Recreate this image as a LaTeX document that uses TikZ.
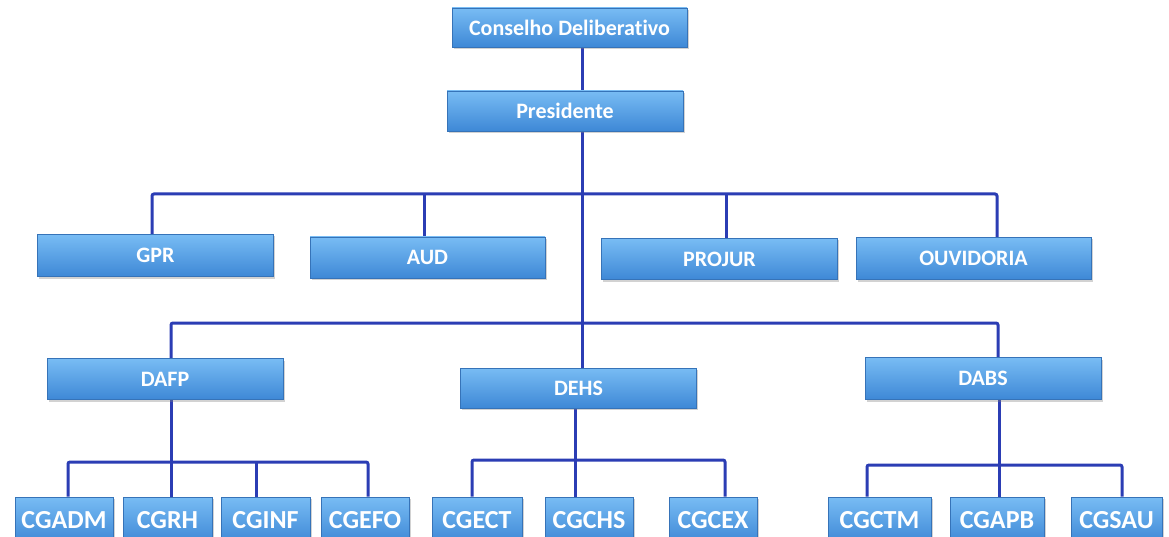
\documentclass[tikz,border=0pt]{standalone}
\usepackage{fontspec}
\setmainfont{Carlito}[Ligatures=NoCommon]
\usetikzlibrary{shadows,backgrounds}
\definecolor{boxtop}{HTML}{78BCF4}
\definecolor{boxmid}{HTML}{4C9CE8}
\definecolor{boxbot}{HTML}{3E88D6}
\definecolor{boxline}{HTML}{3673B8}
\definecolor{conncol}{HTML}{2B3DB4}
\tikzset{
  orgbox/.style={draw=boxline, line width=0.6pt, top color=boxtop, middle color=boxmid, bottom color=boxbot,
    minimum height=#1, inner sep=0pt, text=white, font=\bfseries\fontsize{22}{22}\selectfont,
    drop shadow={shadow xshift=1.5pt, shadow yshift=-2pt, opacity=0.35}},
  lowbox/.style={orgbox=46pt, font=\bfseries\fontsize{26}{26}\selectfont},
  conn/.style={draw=conncol, line width=3pt, rounded corners=2pt}
}
\begin{document}
\begin{tikzpicture}[x=1pt,y=-1pt]
\clip (0,0) rectangle (1169,537);
% level 0/1
\node[orgbox=39pt, minimum width=235pt] (cd) at (569.5,27.5) {Conselho Deliberativo};
\node[orgbox=40pt, minimum width=236pt] (pres) at (565,111) {Presidente};
% level 2
\node[orgbox=42pt, minimum width=236pt] (gpr) at (155.5,255.5) {GPR};
\node[orgbox=41pt, minimum width=235pt] (aud) at (427.5,257.5) {AUD};
\node[orgbox=41pt, minimum width=236pt] (projur) at (719.5,259) {PROJUR};
\node[orgbox=42pt, minimum width=235pt] (ouv) at (973.5,258.5) {OUVIDORIA};
% level 3
\node[orgbox=41pt, minimum width=236pt] (dafp) at (165,379) {DAFP};
\node[orgbox=40pt, minimum width=236pt] (dehs) at (578.5,388) {DEHS};
\node[orgbox=42pt, minimum width=236pt] (dabs) at (983,378.5) {DABS};
% level 4
\node[lowbox, minimum width=98pt] (cgadm) at (64,520) {CGADM};
\node[lowbox, minimum width=89pt] (cgrh) at (167.5,520) {CGRH};
\node[lowbox, minimum width=89pt] (cginf) at (265.5,520) {CGINF};
\node[lowbox, minimum width=88pt] (cgefo) at (365,520) {CGEFO};
\node[lowbox, minimum width=90pt] (cgect) at (477,520) {CGECT};
\node[lowbox, minimum width=88pt] (cgchs) at (589,520) {CGCHS};
\node[lowbox, minimum width=88pt] (cgcex) at (713,520) {CGCEX};
\node[lowbox, minimum width=103pt] (cgctm) at (879.5,520) {CGCTM};
\node[lowbox, minimum width=94pt] (cgapb) at (997,520) {CGAPB};
\node[lowbox, minimum width=91pt] (cgsau) at (1116.5,520) {CGSAU};
% bus coordinates
\coordinate (T) at (582,0);
\coordinate (b1l) at (152,194);
\coordinate (b1a) at (424,194);
\coordinate (b1p) at (726,194);
\coordinate (b1r) at (997,194);
\coordinate (b2l) at (171,323);
\coordinate (b2r) at (998,323);
\coordinate (bAl) at (68,462);
\coordinate (bAi) at (256,462);
\coordinate (bAr) at (368,462);
\coordinate (bDl) at (472,460);
\coordinate (bDm) at (575,460);
\coordinate (bDr) at (725,460);
\coordinate (bBl) at (867,465);
\coordinate (bBm) at (999,465);
\coordinate (bBr) at (1122,465);
\begin{pgfonlayer}{background}
\fill[white] (0,0) rectangle (1169,537);
\draw[conn] (cd.south -| T) -- (dehs.north -| T);
\draw[conn] (gpr.north -| b1l) -- (b1l) -- (b1r) -- (ouv.north -| b1r);
\draw[conn] (b1a) -- (aud.north -| b1a);
\draw[conn] (b1p) -- (projur.north -| b1p);
\draw[conn] (dafp.north -| b2l) -- (b2l) -- (b2r) -- (dabs.north -| b2r);
% DAFP group
\draw[conn] (dafp.south -| b2l) -- (cgrh.north -| b2l);
\draw[conn] (cgadm.north -| bAl) -- (bAl) -- (bAr) -- (cgefo.north -| bAr);
\draw[conn] (bAi) -- (cginf.north -| bAi);
% DEHS group
\draw[conn] (dehs.south -| bDm) -- (cgchs.north -| bDm);
\draw[conn] (cgect.north -| bDl) -- (bDl) -- (bDr) -- (cgcex.north -| bDr);
% DABS group
\draw[conn] (dabs.south -| bBm) -- (cgapb.north -| bBm);
\draw[conn] (cgctm.north -| bBl) -- (bBl) -- (bBr) -- (cgsau.north -| bBr);
\end{pgfonlayer}
\end{tikzpicture}
\end{document}
